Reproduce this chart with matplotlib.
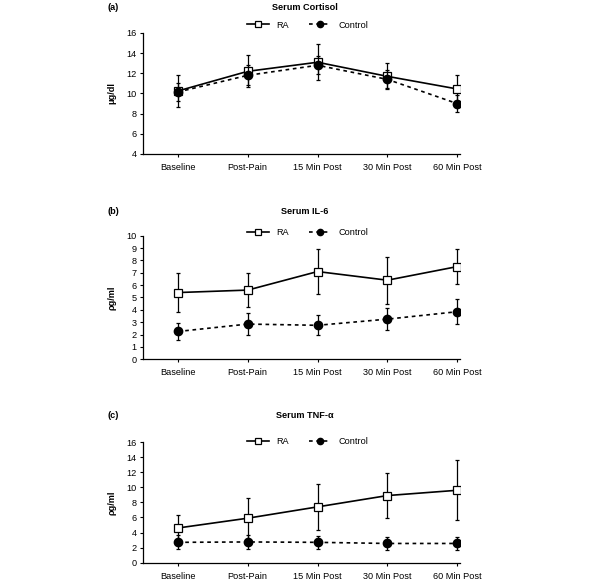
import matplotlib
matplotlib.use("Agg")
import matplotlib.pyplot as plt
from matplotlib.lines import Line2D
import numpy as np

plt.rcParams['font.family'] = ['Liberation Sans', 'DejaVu Sans']

categories = ["Baseline", "Post-Pain", "15 Min Post", "30 Min Post", "60 Min Post"]

cort_ra = [10.25, 12.2, 13.1, 11.7, 10.45]
cort_ra_err = [1.6, 1.6, 1.8, 1.3, 1.4]
cort_ctl = [10.15, 11.8, 12.8, 11.4, 9.0]
cort_ctl_err = [0.9, 1.0, 0.9, 0.9, 0.85]

il6_ra = [5.4, 5.6, 7.1, 6.4, 7.5]
il6_ra_err = [1.6, 1.4, 1.8, 1.9, 1.4]
il6_ctl = [2.25, 2.85, 2.75, 3.25, 3.85]
il6_ctl_err = [0.7, 0.9, 0.8, 0.9, 1.0]

tnf_ra = [4.6, 5.9, 7.4, 8.9, 9.6]
tnf_ra_err = [1.7, 2.7, 3.0, 3.0, 4.0]
tnf_ctl = [2.7, 2.75, 2.7, 2.55, 2.55]
tnf_ctl_err = [0.95, 0.9, 0.9, 0.9, 0.9]

panels = [
    dict(label="(a)", title="Serum Cortisol", ylabel="μg/dl", ra=cort_ra, ra_err=cort_ra_err,
         ctl=cort_ctl, ctl_err=cort_ctl_err, ylim=(4, 16), yticks=np.arange(4, 17, 2),
         top=33, bottom=154, title_y=8, leg_y=25),
    dict(label="(b)", title="Serum IL-6", ylabel="ρg/ml", ra=il6_ra, ra_err=il6_ra_err,
         ctl=il6_ctl, ctl_err=il6_ctl_err, ylim=(0, 10), yticks=np.arange(0, 11, 1),
         top=235.7, bottom=359.3, title_y=212, leg_y=233),
    dict(label="(c)", title="Serum TNF-α", ylabel="ρg/ml", ra=tnf_ra, ra_err=tnf_ra_err,
         ctl=tnf_ctl, ctl_err=tnf_ctl_err, ylim=(0, 16), yticks=np.arange(0, 17, 2),
         top=442, bottom=562.7, title_y=416, leg_y=442),
]

W, H = 600, 583
fig = plt.figure(figsize=(W / 100, H / 100), dpi=100)
left_px, right_px = 143, 460
fs = 6.6
x = np.arange(len(categories))

ra_style = dict(color="black", lw=1.2, marker="s", mfc="white", mec="black", mew=0.9)
ctl_style = dict(color="black", lw=1.2, ls=(0, (2.2, 2.2)), marker="o", mfc="black", mec="black")

for p in panels:
    ax = fig.add_axes([left_px / W, 1 - p["bottom"] / H, (right_px - left_px) / W,
                       (p["bottom"] - p["top"]) / H])
    ax.errorbar(x, p["ra"], yerr=p["ra_err"], ms=6, ecolor="black", elinewidth=0.9,
                capsize=1.5, capthick=0.9, zorder=2, **ra_style)
    ax.errorbar(x, p["ctl"], yerr=p["ctl_err"], ms=6, ecolor="black", elinewidth=0.9,
                capsize=1.5, capthick=0.9, zorder=3, **ctl_style)
    ax.set_xlim(-0.5, 4.04)
    ax.set_ylim(*p["ylim"])
    ax.set_yticks(p["yticks"])
    ax.set_xticks(x)
    ax.set_xticklabels(categories, fontsize=fs)
    ax.tick_params(axis="y", labelsize=fs, direction="out", length=2.5, width=0.8, pad=2)
    ax.tick_params(axis="x", direction="out", length=2.5, width=0.8, pad=4)
    for s in ["top", "right"]:
        ax.spines[s].set_visible(False)
    for s in ["left", "bottom"]:
        ax.spines[s].set_linewidth(0.9)
    ax.set_ylabel(p["ylabel"], fontsize=fs, fontweight="bold")
    ax.yaxis.set_label_coords(-0.085, 0.5)
    ax_h = p["bottom"] - p["top"]
    leg_y_ax = 1 + (p["top"] - p["leg_y"]) / ax_h
    handles = [Line2D([], [], ms=4.5, **ra_style), Line2D([], [], ms=4.5, **ctl_style)]
    ax.legend(handles, ["RA", "Control"], loc="center", bbox_to_anchor=(0.52, leg_y_ax),
              ncol=2, frameon=False, fontsize=fs, handlelength=2.4, columnspacing=2.2,
              handletextpad=0.8, borderaxespad=0)
    fig.text(108 / W, 1 - p["title_y"] / H, p["label"], fontsize=fs, fontweight="bold",
             ha="left", va="center")
    fig.text(305 / W, 1 - p["title_y"] / H, p["title"], fontsize=fs, fontweight="bold",
             ha="center", va="center")

fig.savefig("out.png", dpi=100)
